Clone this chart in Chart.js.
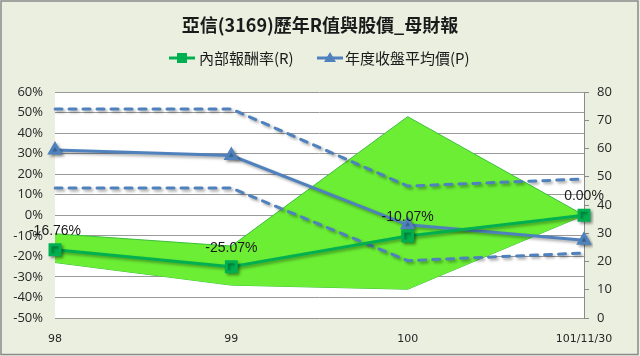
<!DOCTYPE html>
<html><head><meta charset="utf-8">
<script src="https://cdn.jsdelivr.net/npm/chart.js@4"></script>
<style>html,body{margin:0;padding:0;background:#ebefe0;overflow:hidden}</style>
</head><body>
<canvas id="c" width="640" height="356"></canvas>
<script>
// ---- data ----
const categories = ['98', '99', '100', '101/11/30'];
const irr = [-16.76, -25.07, -10.07, 0.00];
const irrLabels = ['-16.76%', '-25.07%', '-10.07%', '0.00%'];
const irrBandUpper = [-9, -15, 48, 0];
const irrBandLower = [-23, -34, -36, 0];
const avgPrice = [59.5, 57.5, 33, 27.5];
const priceBandUpper = [74, 74, 46.7, 49.2];
const priceBandLower = [46, 46, 20.3, 23];
const leftTickRange = [-50, 60, 10];
const rightTickRange = [0, 80, 10];
const titleText = '亞信(3169)歷年R值與股價_母財報';
const legendLabels = ['內部報酬率(R)', '年度收盤平均價(P)'];

const GREEN = '#00B050';
const BLUE = '#4F81BD';
const BG = '#EBEFE0';

const bgPlugin = {
  id: 'bg',
  beforeDraw(chart) {
    const { ctx, chartArea: a } = chart;
    ctx.save();
    ctx.fillStyle = BG;
    ctx.fillRect(0, 0, chart.width, chart.height);
    ctx.fillStyle = '#ffffff';
    ctx.fillRect(a.left, a.top, a.right - a.left, a.bottom - a.top);
    ctx.restore();
  },
  afterDraw(chart) {
    const ctx = chart.ctx;
    ctx.save();
    ctx.strokeStyle = '#8a8a8a';
    ctx.lineWidth = 1.5;
    ctx.strokeRect(1, 1, chart.width - 3, chart.height - 2.5);
    // title
    ctx.fillStyle = '#1a1a1a';
    ctx.font = 'bold 18px "Noto Sans CJK TC", sans-serif';
    ctx.textAlign = 'center';
    ctx.textBaseline = 'middle';
    ctx.fillText(titleText, 320, 25);
    // legend
    const ly = 58;
    ctx.font = '15px "Noto Sans CJK TC", sans-serif';
    ctx.textAlign = 'left';
    ctx.lineWidth = 3;
    ctx.strokeStyle = GREEN;
    ctx.beginPath(); ctx.moveTo(169, ly); ctx.lineTo(195, ly); ctx.stroke();
    ctx.fillStyle = GREEN;
    ctx.fillRect(177, ly - 5, 10, 10);
    ctx.fillStyle = '#1a1a1a';
    ctx.fillText(legendLabels[0], 199, ly);
    ctx.strokeStyle = BLUE;
    ctx.beginPath(); ctx.moveTo(317, ly); ctx.lineTo(343, ly); ctx.stroke();
    ctx.fillStyle = BLUE;
    ctx.beginPath(); ctx.moveTo(330, ly - 6); ctx.lineTo(336, ly + 4); ctx.lineTo(324, ly + 4); ctx.closePath(); ctx.fill();
    ctx.fillStyle = '#1a1a1a';
    ctx.fillText(legendLabels[1], 345, ly);
    ctx.restore();
  }
};

const shadowPlugin = {
  id: 'shadow',
  beforeDatasetDraw(chart, args) {
    if (args.index <= 3) {
      const ctx = chart.ctx;
      ctx.save();
      ctx.shadowColor = 'rgba(0,0,0,0.35)';
      ctx.shadowBlur = 3;
      ctx.shadowOffsetX = 2;
      ctx.shadowOffsetY = 2;
    }
  },
  afterDatasetDraw(chart, args) {
    if (args.index <= 3) chart.ctx.restore();
  }
};

const labelPlugin = {
  id: 'irrLabels',
  afterDatasetsDraw(chart) {
    const ctx = chart.ctx;
    const meta = chart.getDatasetMeta(0);
    ctx.save();
    ctx.font = '14px "Liberation Sans", Arial, sans-serif';
    ctx.fillStyle = '#1a1a1a';
    ctx.textAlign = 'center';
    ctx.textBaseline = 'middle';
    meta.data.forEach((pt, i) => {
      ctx.fillText(irrLabels[i], pt.x, pt.y - 19);
    });
    ctx.restore();
  }
};

new Chart(document.getElementById('c'), {
  type: 'line',
  data: {
    labels: categories,
    datasets: [
      { label: legendLabels[0], data: irr, yAxisID: 'yL', borderColor: GREEN, backgroundColor: GREEN,
        borderWidth: 3, pointStyle: 'rect', pointRadius: 7, pointHoverRadius: 7, order: 0, fill: false, tension: 0 },
      { label: legendLabels[1], data: avgPrice, yAxisID: 'yR', borderColor: BLUE, backgroundColor: BLUE,
        borderWidth: 3, pointStyle: 'triangle', pointRadius: 6, pointHoverRadius: 6, order: 1, fill: false, tension: 0 },
      { label: 'P上限', data: priceBandUpper, yAxisID: 'yR', borderColor: BLUE, borderWidth: 3,
        borderDash: [7, 7], borderCapStyle: 'round', pointRadius: 0, order: 2, fill: false, tension: 0 },
      { label: 'P下限', data: priceBandLower, yAxisID: 'yR', borderColor: BLUE, borderWidth: 3,
        borderDash: [7, 7], borderCapStyle: 'round', pointRadius: 0, order: 3, fill: false, tension: 0 },
      { label: 'R上限', data: irrBandUpper, yAxisID: 'yL', borderColor: '#3DBE3D', borderWidth: 1,
        backgroundColor: '#6BEE34', pointRadius: 0, order: 10, fill: 5, tension: 0 },
      { label: 'R下限', data: irrBandLower, yAxisID: 'yL', borderColor: '#3DBE3D', borderWidth: 1,
        backgroundColor: '#6BEE34', pointRadius: 0, order: 11, fill: false, tension: 0 }
    ]
  },
  options: {
    responsive: false,
    animation: false,
    events: [],
    layout: { padding: { top: 92, left: 0, right: 0, bottom: 0 } },
    plugins: { legend: { display: false }, title: { display: false }, tooltip: { enabled: false } },
    scales: {
      x: {
        type: 'category', offset: false,
        grid: { display: false, drawTicks: false },
        border: { display: false },
        ticks: { padding: 15, color: '#262626', font: { family: '"DejaVu Sans", Verdana, sans-serif', size: 11 }, maxRotation: 0, autoSkip: false },
        afterFit(s) { s.height = 38; }
      },
      yL: {
        position: 'left', min: leftTickRange[0], max: leftTickRange[1],
        ticks: { stepSize: leftTickRange[2], padding: 12, color: '#262626',
          font: { family: '"Open Sans", sans-serif', size: 13 }, callback: v => v + '%' },
        grid: { color: '#9a9a9a', lineWidth: 1, drawTicks: false },
        border: { display: false },
        afterFit(s) { s.width = 55; }
      },
      yR: {
        position: 'right', min: rightTickRange[0], max: rightTickRange[1],
        ticks: { stepSize: rightTickRange[2], padding: 8, color: '#262626',
          font: { family: '"Open Sans", sans-serif', size: 13 } },
        grid: { drawOnChartArea: false, drawTicks: true, tickLength: 5, color: '#8a8a8a' },
        border: { display: true, color: '#8a8a8a', width: 1 },
        afterFit(s) { s.width = 56; }
      }
    }
  },
  plugins: [bgPlugin, shadowPlugin, labelPlugin]
});
</script>
</body></html>
